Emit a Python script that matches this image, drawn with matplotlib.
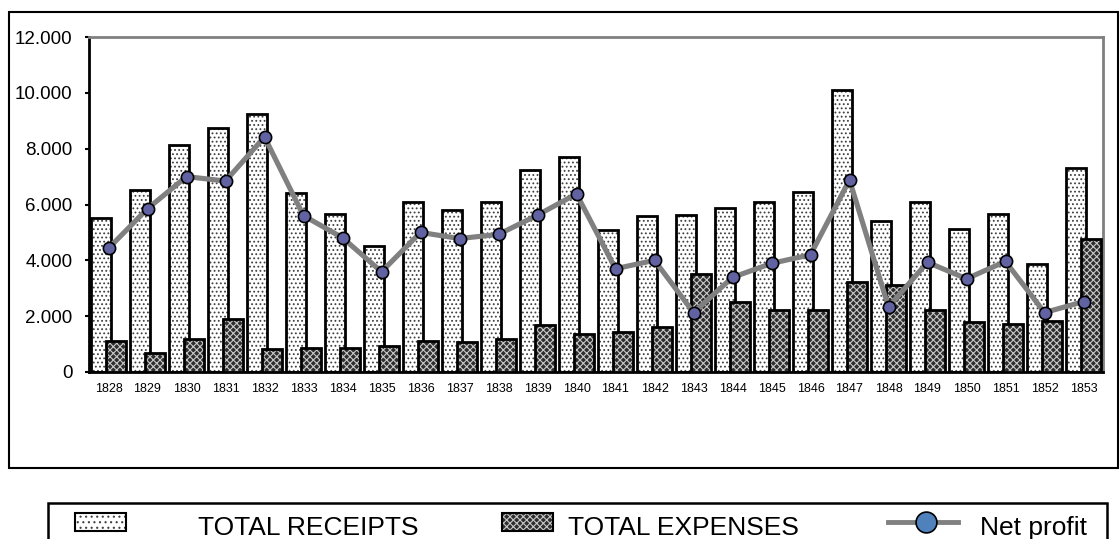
import matplotlib
matplotlib.use("Agg")
import matplotlib.pyplot as plt
from matplotlib.patches import Rectangle
from matplotlib.lines import Line2D
import numpy as np

years = [str(y) for y in range(1828, 1854)]
receipts = [5500, 6520, 8130, 8730, 9240, 6420, 5670, 4510, 6080, 5810, 6080, 7250, 7710,
            5100, 5590, 5620, 5890, 6080, 6430, 10110, 5420, 6080, 5130, 5670, 3880, 7320]
expenses = [1100, 670, 1190, 1900, 835, 870, 870, 940, 1100, 1060, 1170, 1670, 1350,
            1420, 1600, 3520, 2520, 2210, 2230, 3240, 3100, 2210, 1780, 1720, 1815, 4780]
net_profit = [4430, 5850, 7000, 6840, 8420, 5600, 4810, 3590, 5000, 4780, 4930, 5620, 6380,
              3700, 4000, 2130, 3390, 3890, 4200, 6880, 2330, 3930, 3340, 3960, 2130, 2520]
yticks = [0, 2000, 4000, 6000, 8000, 10000, 12000]
ytick_labels = ["0", "2.000", "4.000", "6.000", "8.000", "10.000", "12.000"]
legend_labels = ["TOTAL RECEIPTS", "TOTAL EXPENSES", "Net profit"]

plt.rcParams['font.family'] = ['Liberation Sans', 'DejaVu Sans']
plt.rcParams['hatch.linewidth'] = 0.8

W, H = 1120, 539
fig = plt.figure(figsize=(W / 100, H / 100), dpi=100)
ax = fig.add_axes([89 / W, 1 - 372 / H, (1103 - 89) / W, (372 - 37) / H])

x = np.arange(len(years))
bw = 0.5
off = 0.19
# receipts: fill + hatch layer, then outline
ax.bar(x - off, receipts, bw, facecolor='white', edgecolor='#404040', hatch='....', linewidth=0, zorder=2)
ax.bar(x - off, receipts, bw, fill=False, edgecolor='black', linewidth=2, zorder=2.1)
# expenses
ax.bar(x + off, expenses, bw, facecolor='#2e2e2e', edgecolor='#c8c8c8', hatch='xxxxx', linewidth=0, zorder=3)
ax.bar(x + off, expenses, bw, fill=False, edgecolor='black', linewidth=2, zorder=3.1)
# net profit line
ax.plot(x, net_profit, color='#808080', linewidth=3.7, marker='o', markersize=8.8,
        markerfacecolor='#6062A2', markeredgecolor='black', markeredgewidth=1.2, zorder=5)

ax.set_xlim(-0.5, len(years) - 0.5)
ax.set_ylim(0, 12000)
ax.set_yticks(yticks)
ax.set_yticklabels(ytick_labels, fontsize=13.5)
ax.set_xticks(x)
ax.set_xticklabels(years, fontsize=9)
ax.tick_params(axis='x', length=0, pad=8)
ax.tick_params(axis='y', length=3, width=1.5, pad=9, direction='out')
for s in ['left', 'bottom']:
    ax.spines[s].set_color('black')
    ax.spines[s].set_linewidth(2)
for s in ['top', 'right']:
    ax.spines[s].set_color('#808080')
    ax.spines[s].set_linewidth(2)

# outer chart border
fig.add_artist(Rectangle((9 / W, 1 - 468 / H), (1118 - 9) / W, (468 - 12) / H,
                         transform=fig.transFigure, fill=False, edgecolor='black', linewidth=1.5))
# legend box (cut at the bottom of the image)
fig.add_artist(Rectangle((48 / W, -0.05), (1107 - 48) / W, 1 - 503 / H + 0.05,
                         transform=fig.transFigure, fill=False, edgecolor='black', linewidth=1.8))
# legend swatches
sy0, sy1 = 1 - 531 / H, 1 - 513 / H
fig.add_artist(Rectangle((75 / W, sy0), 51 / W, sy1 - sy0, transform=fig.transFigure,
                         facecolor='white', edgecolor='#404040', hatch='...', linewidth=0))
fig.add_artist(Rectangle((75 / W, sy0), 51 / W, sy1 - sy0, transform=fig.transFigure,
                         fill=False, edgecolor='black', linewidth=1.5))
fig.add_artist(Rectangle((502 / W, sy0), 51 / W, sy1 - sy0, transform=fig.transFigure,
                         facecolor='#2e2e2e', edgecolor='#c8c8c8', hatch='xxxxx', linewidth=0))
fig.add_artist(Rectangle((502 / W, sy0), 51 / W, sy1 - sy0, transform=fig.transFigure,
                         fill=False, edgecolor='black', linewidth=1.5))
ly = 1 - 522 / H
fig.add_artist(Line2D([888 / W, 958 / W], [ly, ly], transform=fig.transFigure,
                      color='#808080', linewidth=3.5))
fig.add_artist(Line2D([926 / W], [ly], transform=fig.transFigure, marker='o', markersize=15,
                      markerfacecolor='#4F81BD', markeredgecolor='black', markeredgewidth=1.2))
ty = 1 - 535 / H
fig.text(198 / W, ty, legend_labels[0], fontsize=19, va='baseline', ha='left')
fig.text(568 / W, ty, legend_labels[1], fontsize=19, va='baseline', ha='left')
fig.text(980 / W, ty, legend_labels[2], fontsize=19, va='baseline', ha='left')

fig.savefig('out.png', dpi=100)
